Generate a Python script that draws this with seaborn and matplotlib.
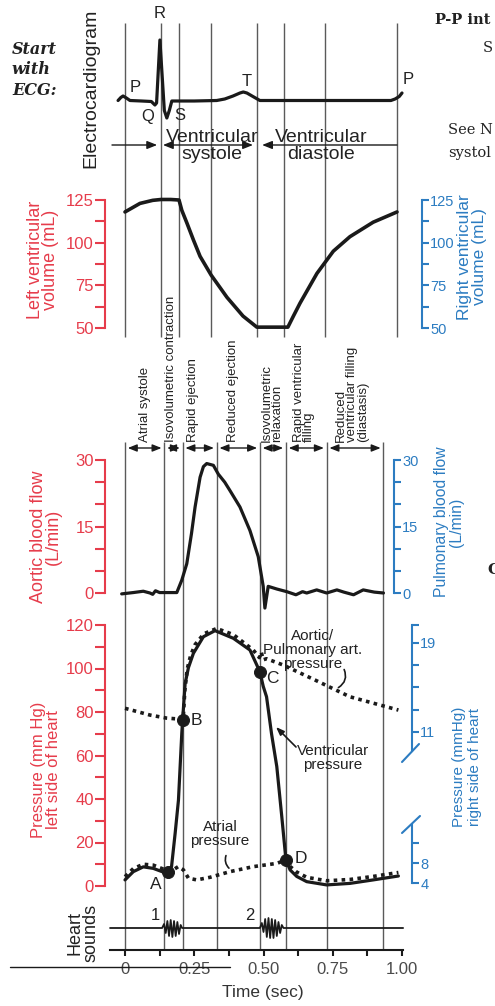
import matplotlib.pyplot as plt
import seaborn as sns
from matplotlib.lines import Line2D
from matplotlib.ticker import FixedLocator

# Wiggers diagram, values (time in seconds)
ecg_t = [-0.025, -0.015, -0.007, 0.005, 0.018, 0.06, 0.095, 0.108, 0.114, 0.126, 0.142, 0.151, 0.16, 0.169,
         0.25, 0.331, 0.36, 0.39, 0.415, 0.427, 0.44, 0.465, 0.487, 0.7, 0.96, 0.975, 0.99, 1.0]
ecg_mv = [0.0, 0.06, 0.09, 0.05, 0.0, -0.01, -0.02, -0.09, -0.05, 1.21, -0.2, -0.35, -0.2, -0.01,
          -0.01, 0.0, 0.03, 0.09, 0.15, 0.17, 0.15, 0.07, 0.0, 0.0, 0.0, 0.03, 0.08, 0.15]

vol_t = [0, 0.054, 0.10, 0.13, 0.165, 0.195, 0.205, 0.224, 0.247, 0.271, 0.311, 0.368, 0.426, 0.476,
         0.588, 0.608, 0.632, 0.693, 0.752, 0.812, 0.896, 0.982]
vol_ml = [118, 123, 124.8, 125.3, 125.3, 125, 119, 111.3, 101.6, 92, 81, 68, 57, 50.5,
          50.5, 57, 64.6, 82, 95, 103.5, 112, 118]

flow_t = [-0.012, 0.03, 0.066, 0.09, 0.1, 0.11, 0.125, 0.144, 0.187, 0.205, 0.223, 0.24, 0.253, 0.271,
          0.283, 0.295, 0.319, 0.337, 0.36, 0.379, 0.415, 0.451, 0.481, 0.499, 0.505, 0.517, 0.548, 0.584,
          0.617, 0.641, 0.656, 0.692, 0.728, 0.765, 0.79, 0.825, 0.86, 0.9, 0.933]
flow_lmin = [-0.2, 0.1, 0.4, 0.0, -0.3, 0.5, 0.1, 0.1, 0.1, 2.9, 6.6, 13.4, 19.4, 26.1,
             28.5, 29.2, 28.8, 26.8, 25.0, 23.1, 19.4, 14.1, 8.2, 1.5, -3.4, 1.5, 0.9, 0.3,
             -0.4, 0.3, 0.0, 0.7, 0.0, 0.7, 0.2, -0.4, 0.7, 0.2, 0.0]

vent_t = [0, 0.03, 0.066, 0.102, 0.138, 0.156, 0.168, 0.181, 0.193, 0.205, 0.208, 0.217, 0.229, 0.247,
          0.283, 0.325, 0.391, 0.451, 0.487, 0.499, 0.511, 0.529, 0.548, 0.566, 0.581, 0.596, 0.62, 0.656,
          0.728, 0.812, 0.896, 0.987]
vent_mmhg = [2.8, 6.6, 8.8, 8.1, 6.4, 6.6, 8.9, 24.2, 39.5, 70.2, 76.3, 93, 100.4, 107,
             114.6, 117.4, 113.9, 108.5, 98.5, 91.8, 87, 70, 54.9, 31.9, 12, 7.4, 4.4, 2,
             0.5, 1.2, 2.8, 4.6]

aorta_t = [0, 0.09, 0.15, 0.21, 0.216, 0.225, 0.237, 0.253, 0.285, 0.331, 0.391, 0.463, 0.485, 0.492,
           0.499, 0.511, 0.571, 0.686, 0.812, 0.987]
aorta_mmhg = [81.7, 78.6, 77.2, 76.6, 90, 100, 106, 111, 116, 118.4, 115.6, 108.5, 105, 107.5,
              104, 104.5, 101.6, 94.7, 87, 80.9]

atrial_t = [0, 0.03, 0.066, 0.102, 0.138, 0.156, 0.175, 0.192, 0.211, 0.229, 0.259, 0.307, 0.379, 0.463,
            0.548, 0.581, 0.596, 0.62, 0.656, 0.728, 0.812, 0.896, 0.987]
atrial_mmhg = [4.3, 8.0, 10.0, 9.6, 7.8, 7.0, 7.5, 8.9, 7.4, 3.6, 2.8, 4.0, 6.6, 8.9,
               10.4, 12.0, 9.0, 6.4, 4.0, 2.4, 3.0, 4.4, 6.2]

point_names = ['A', 'B', 'C', 'D']
point_t = [0.156, 0.208, 0.487, 0.581]
point_mmhg = [6.6, 76.3, 98.5, 12.0]

sound_t = [-0.054, 0.134, 0.141, 0.147, 0.153, 0.159, 0.165, 0.171, 0.177, 0.183, 0.189, 0.195, 0.201, 0.206,
           0.487, 0.494, 0.500, 0.506, 0.512, 0.518, 0.524, 0.530, 0.536, 0.542, 0.548, 0.554, 0.560, 0.566,
           0.572, 1.004]
sound_amp = [0, 0, 4, -5, 7, -8, 8, -9, 7, -8, 6, -6, 3, 0,
             0, 5, -4, 9, -9, 10, -10, 9, -10, 8, -8, 6, -5, 3, 0, 0]

ecg_bounds = [0, 0.130, 0.195, 0.310, 0.476, 0.574, 0.722, 0.982]
phase_bounds = [0, 0.142, 0.208, 0.331, 0.487, 0.581, 0.728, 0.933]
phase_names = ['Atrial systole', 'Isovolumetric contraction', 'Rapid ejection', 'Reduced ejection',
               'Isovolumetric\nrelaxation', 'Rapid ventricular\nfilling',
               'Reduced\nventricular filling\n(diastasis)']
phase_label_x = [145, 171, 193, 233, 272, 304, 352]

arrow_from = [-0.047, 0.137, 0.982]
arrow_to = [0.116, 0.462, 0.495]
arrow_kind = ['-|>', '<|-|>', '-|>']

time_ticks = [0, 0.25, 0.5, 0.75, 1.0]
time_labels = ['0', '0.25', '0.50', '0.75', '1.00']

W, H = 495, 1006
T0, PXS = 125, 277  # pixel of t=0 and pixels per second
RED = '#e63c4b'
BLUE = '#2c7cc1'
INK = '#222222'
GRID = '#5a5a5a'

sns.set_theme(style='ticks')
plt.rcParams['font.family'] = ['Liberation Sans', 'DejaVu Sans']

fig = plt.figure(figsize=(W / 100, H / 100), dpi=100)


def t_of(px):
    return (px - T0) / PXS


def add_ax(x0, y0, x1, y1):
    ax = fig.add_axes([x0 / W, 1 - y1 / H, (x1 - x0) / W, (y1 - y0) / H])
    ax.set_facecolor('none')
    ax.set_xlim(t_of(x0), t_of(x1))
    return ax


def ftext(x, y, s, **kw):
    kw.setdefault('color', INK)
    return fig.text(x / W, 1 - y / H, s, **kw)


def fline(xs, ys, **kw):
    fig.add_artist(Line2D([x / W for x in xs], [1 - y / H for y in ys], transform=fig.transFigure, **kw))


def only_spine(ax, side, color, ticklen=7, labelsize=12):
    for s in ax.spines:
        ax.spines[s].set_visible(s == side)
    ax.spines[side].set_color(color)
    ax.spines[side].set_linewidth(1.5)
    ax.set_xticks([])
    ax.tick_params(axis='x', which='both', bottom=False, top=False)
    ax.tick_params(axis='y', which='both', colors=color, length=ticklen, width=1.5, pad=1,
                   labelsize=labelsize, left=(side == 'left'), right=(side == 'right'),
                   labelleft=(side == 'left'), labelright=(side == 'right'))


# background canvas: phase boundaries and arrows
cv = add_ax(0, 0, W, H)
cv.set_ylim(H, 0)
cv.axis('off')
cv.vlines(ecg_bounds, 23, 337, color=GRID, lw=1.0)
cv.vlines(phase_bounds, 442, 950, color=GRID, lw=1.0)
for a, b, k in zip(arrow_from, arrow_to, arrow_kind):
    cv.annotate('', xy=(b, 145), xytext=(a, 145),
                arrowprops=dict(arrowstyle=k + ',head_length=0.5,head_width=0.2', lw=1.0, color='k',
                                shrinkA=0, shrinkB=0))
for a, b in zip(phase_bounds[:-1], phase_bounds[1:]):
    cv.annotate('', xy=(b, 448), xytext=(a, 448),
                arrowprops=dict(arrowstyle='<|-|>,head_length=0.45,head_width=0.18', lw=1.0, color='k',
                                shrinkA=2, shrinkB=2))

# ECG
eax = add_ax(105, 30, 422, 130)
sns.lineplot(x=ecg_t, y=ecg_mv, ax=eax, color='k', lw=2.3, clip_on=False)
eax.set_xlim(t_of(105), t_of(422))
eax.set_ylim((100.5 - 130) / 50, (100.5 - 30) / 50)
eax.axis('off')

# ventricular volume
vax = add_ax(105, 200, 422, 328)
sns.lineplot(x=vol_t, y=vol_ml, ax=vax, color='k', lw=2.6, clip_on=False)
vax.set_xlim(t_of(105), t_of(422))
vax.set_ylim(50, 125)
only_spine(vax, 'left', RED)
vax.set_yticks([50, 75, 100, 125])
vax.yaxis.set_minor_locator(FixedLocator([62.5, 87.5, 112.5]))
vtw = vax.twinx()
vtw.set_facecolor('none')
vtw.set_ylim(50, 125)
only_spine(vtw, 'right', BLUE, 5, 10.5)
vtw.set_yticks([50, 75, 100, 125])
vtw.yaxis.set_minor_locator(FixedLocator([62.5, 87.5, 112.5]))

# aortic / pulmonary flow
fax = add_ax(105, 460, 394, 593)
sns.lineplot(x=flow_t, y=flow_lmin, ax=fax, color='k', lw=2.3, clip_on=False)
fax.set_xlim(t_of(105), t_of(394))
fax.set_ylim(0, 30)
only_spine(fax, 'left', RED)
fax.set_yticks([0, 15, 30])
fax.yaxis.set_minor_locator(FixedLocator([5, 10, 20, 25]))
ftw = fax.twinx()
ftw.set_facecolor('none')
ftw.set_ylim(0, 30)
only_spine(ftw, 'right', BLUE, 5, 10.5)
ftw.set_yticks([0, 15, 30])
ftw.yaxis.set_minor_locator(FixedLocator([5, 10, 20, 25]))

# pressures
pax = add_ax(105, 625, 412, 886)
sns.lineplot(x=aorta_t, y=aorta_mmhg, ax=pax, color='k', lw=2.6, ls=(0, (1, 1.2)), clip_on=False)
sns.lineplot(x=atrial_t, y=atrial_mmhg, ax=pax, color='k', lw=2.6, ls=(0, (1, 1.2)), clip_on=False)
sns.lineplot(x=vent_t, y=vent_mmhg, ax=pax, color='k', lw=2.3, clip_on=False)
sns.scatterplot(x=point_t, y=point_mmhg, ax=pax, color='k', s=75, edgecolor='k', zorder=5, clip_on=False)
pax.set_xlim(t_of(105), t_of(412))
pax.set_ylim(0, 120)
only_spine(pax, 'left', RED)
pax.set_yticks(range(0, 121, 20))
pax.yaxis.set_minor_locator(FixedLocator(range(10, 111, 20)))
offsets = [(-9, -9), (10, 0), (9, -5), (11, 1)]
for name, t, p, off in zip(point_names, point_t, point_mmhg, offsets):
    pax.annotate(name, (t, p), xytext=off, textcoords='offset points', ha='center', va='center',
                 fontsize=12.5, color=INK)

uax = add_ax(105, 625, 412, 750.7)
uax.set_ylim(9.3, 20.6)
only_spine(uax, 'right', BLUE, 5, 10.5)
uax.set_yticks([11, 13, 15, 17, 19, 20.6], labels=['11', '', '', '', '19', ''])
lax = add_ax(105, 825, 412, 883.3)
lax.set_ylim(4, 15.7)
only_spine(lax, 'right', BLUE, 5, 10.5)
lax.set_yticks([4, 8, 12], labels=['4', '8', ''])
fline([402, 419], [762, 744], color=BLUE, lw=1.5)
fline([402, 420], [833, 816], color=BLUE, lw=1.5)

# heart sounds + time axis
sax = add_ax(110, 905, 403, 950)
sns.lineplot(x=sound_t, y=sound_amp, ax=sax, color='k', lw=1.3, clip_on=False)
sax.set_xlim(t_of(110), t_of(403))
sax.set_ylim(-22, 23)
for s in sax.spines:
    sax.spines[s].set_visible(s == 'bottom')
sax.spines['bottom'].set_color('k')
sax.spines['bottom'].set_linewidth(1.5)
sax.set_yticks([])
sax.set_xticks(time_ticks, labels=time_labels)
sax.xaxis.set_minor_locator(FixedLocator([0.125, 0.375, 0.625, 0.875]))
sax.tick_params(axis='x', which='both', bottom=True, direction='out', length=4, width=1.5, color='k',
                labelcolor='#4a4a4a', labelsize=12, pad=5)
sax.tick_params(axis='y', left=False)

# texts
ftext(91, 88, 'Electrocardiogram', rotation=90, ha='center', va='center', fontsize=14)
ftext(12, 70, 'Start\nwith\nECG:', family='DejaVu Serif', style='italic', weight='bold', fontsize=11.5,
      ha='left', va='center', linespacing=1.25)
for lbl, x, y in [('R', 160, 13), ('P', 135, 88), ('Q', 148, 117), ('S', 180, 115), ('T', 247, 82),
                  ('P', 408, 80)]:
    ftext(x, y, lbl, fontsize=12, ha='center', va='center')
ftext(212, 146, 'Ventricular\nsystole', fontsize=14, ha='center', va='center', linespacing=1.0)
ftext(321, 146, 'Ventricular\ndiastole', fontsize=14, ha='center', va='center', linespacing=1.0)

ftext(435, 20, 'P-P int', family='DejaVu Serif', weight='bold', fontsize=10.5, ha='left', va='center')
ftext(483, 48, 'S', family='DejaVu Serif', fontsize=10.5, ha='left', va='center')
ftext(448, 130, 'See N', family='DejaVu Serif', fontsize=10.5, ha='left', va='center')
ftext(448, 153, 'systol', family='DejaVu Serif', fontsize=10.5, ha='left', va='center')
ftext(487, 570, 'C', family='DejaVu Serif', weight='bold', fontsize=11, ha='left', va='center')

ftext(43, 260, 'Left ventricular\nvolume (mL)', color=RED, rotation=90, ha='center', va='center',
      fontsize=13, linespacing=0.85)
ftext(472, 257, 'Right ventricular\nvolume (mL)', color=BLUE, rotation=90, ha='center', va='center',
      fontsize=12.5, linespacing=0.95)
ftext(46, 537, 'Aortic blood flow\n(L/min)', color=RED, rotation=90, ha='center', va='center',
      fontsize=13, linespacing=0.85)
ftext(449, 522, 'Pulmonary blood flow\n(L/min)', color=BLUE, rotation=90, ha='center', va='center',
      fontsize=11.3, linespacing=1.0)
ftext(46, 770, 'Pressure (mm Hg)\nleft side of heart', color=RED, rotation=90, ha='center', va='center',
      fontsize=12, linespacing=0.95)
ftext(467, 767, 'Pressure (mmHg)\nright side of heart', color=BLUE, rotation=90, ha='center',
      va='center', fontsize=11, linespacing=1.1)

for x, name in zip(phase_label_x, phase_names):
    ftext(x, 442, name, rotation=90, ha='center', va='bottom', fontsize=9.5, linespacing=0.85,
          multialignment='left')

ftext(313, 650, 'Aortic/\nPulmonary art.\npressure', fontsize=11, ha='center', va='center', linespacing=1.0)
ftext(333, 758, 'Ventricular\npressure', fontsize=11, ha='center', va='center', linespacing=1.0)
ftext(220, 834, 'Atrial\npressure', fontsize=11, ha='center', va='center', linespacing=1.0)
cv.annotate('', xy=(t_of(336), 689), xytext=(t_of(343), 667),
            arrowprops=dict(arrowstyle='-', lw=1.2, color='k', connectionstyle='arc3,rad=-0.5'))
cv.annotate('', xy=(t_of(276), 727), xytext=(t_of(296), 747),
            arrowprops=dict(arrowstyle='-|>,head_length=0.4,head_width=0.15', lw=1.2, color='k',
                            shrinkA=0, shrinkB=0))
cv.annotate('', xy=(t_of(231), 870), xytext=(t_of(227), 853),
            arrowprops=dict(arrowstyle='-', lw=1.2, color='k', connectionstyle='arc3,rad=0.4'))

ftext(83, 933, 'Heart\nsounds', rotation=90, ha='center', va='center', fontsize=13, linespacing=0.85)
ftext(155, 915, '1', fontsize=12, ha='center', va='center')
ftext(250, 915, '2', fontsize=12, ha='center', va='center')
ftext(263, 993, 'Time (sec)', fontsize=12.5, ha='center', va='center', color='#333333')
fline([10, 230], [967, 967], color='k', lw=1.0)

fig.savefig('out.png', dpi=100)
